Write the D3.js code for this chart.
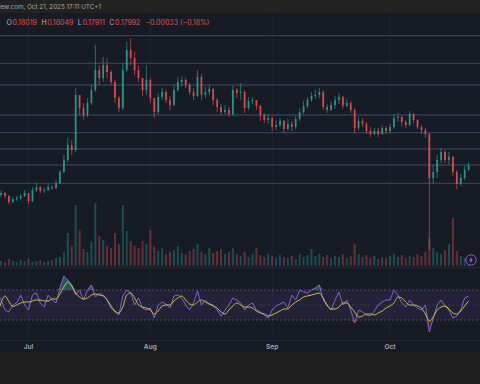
<!DOCTYPE html>
<html><head><meta charset="utf-8">
<script src="https://cdn.jsdelivr.net/npm/d3@7"></script>
<style>html,body{margin:0;padding:0;background:#171b26;overflow:hidden}</style>
</head><body>
<svg id="c" width="480" height="384"></svg>
<script>
// ---------- data ----------
const startDate = new Date(Date.UTC(2025, 5, 23));
const endDate = new Date(Date.UTC(2025, 9, 21));
const firstOpen = 0.1542;
const close = [0.1620,0.1632,0.1614,0.1578,0.1596,0.1602,0.1614,0.1632,0.1584,0.1650,
 0.1668,0.1644,0.1650,0.1668,0.1662,0.1692,0.1758,0.1830,0.1920,0.1890,
 0.2220,0.2142,0.2100,0.2172,0.2250,0.2370,0.2322,0.2400,0.2358,0.2298,
 0.2202,0.2142,0.2370,0.2490,0.2442,0.2370,0.2322,0.2250,0.2310,0.2202,
 0.2118,0.2208,0.2238,0.2190,0.2160,0.2250,0.2298,0.2310,0.2280,0.2238,
 0.2214,0.2328,0.2220,0.2238,0.2256,0.2190,0.2148,0.2118,0.2130,0.2106,
 0.2250,0.2232,0.2238,0.2142,0.2184,0.2190,0.2154,0.2100,0.2070,0.2082,
 0.2028,0.2040,0.2064,0.2016,0.2046,0.2028,0.2076,0.2118,0.2154,0.2190,
 0.2214,0.2220,0.2238,0.2148,0.2130,0.2160,0.2190,0.2208,0.2154,0.2172,
 0.2130,0.2022,0.2064,0.2046,0.2004,0.1986,0.2004,0.1986,0.2022,0.2004,
 0.2028,0.2082,0.2088,0.2058,0.2040,0.2106,0.2070,0.2028,0.2010,0.1986,
 0.1722,0.1758,0.1830,0.1878,0.1830,0.1848,0.1758,0.1686,0.1722,0.1770,
 0.17992];
const high = [0.1632,0.1650,0.1638,0.1620,0.1608,0.1614,0.1626,0.1650,0.1632,0.1668,
 0.1692,0.1674,0.1668,0.1686,0.1680,0.1710,0.1770,0.1860,0.1968,0.1950,
 0.2262,0.2220,0.2172,0.2202,0.2280,0.2520,0.2400,0.2448,0.2442,0.2370,
 0.2310,0.2214,0.2412,0.2538,0.2562,0.2478,0.2400,0.2322,0.2400,0.2322,
 0.2202,0.2232,0.2262,0.2250,0.2214,0.2280,0.2328,0.2334,0.2322,0.2292,
 0.2262,0.2370,0.2346,0.2268,0.2280,0.2262,0.2202,0.2166,0.2160,0.2148,
 0.2274,0.2262,0.2292,0.2250,0.2208,0.2208,0.2190,0.2160,0.2112,0.2106,
 0.2088,0.2070,0.2082,0.2070,0.2076,0.2064,0.2094,0.2142,0.2184,0.2208,
 0.2238,0.2250,0.2262,0.2250,0.2166,0.2184,0.2214,0.2232,0.2214,0.2196,
 0.2184,0.2142,0.2088,0.2082,0.2058,0.2028,0.2022,0.2022,0.2040,0.2034,
 0.2046,0.2106,0.2112,0.2094,0.2070,0.2124,0.2112,0.2076,0.2040,0.2022,
 0.1992,0.1800,0.1860,0.1902,0.1890,0.1878,0.1854,0.1770,0.1746,0.1794,
 0.1818];
const low = [0.1518,0.1608,0.1602,0.1566,0.1572,0.1584,0.1590,0.1608,0.1566,0.1578,
 0.1638,0.1632,0.1632,0.1644,0.1650,0.1656,0.1686,0.1752,0.1818,0.1860,
 0.1878,0.2100,0.2070,0.2088,0.2160,0.2238,0.2280,0.2298,0.2322,0.2280,
 0.2172,0.2118,0.2130,0.2358,0.2400,0.2340,0.2298,0.2214,0.2220,0.2172,
 0.2082,0.2106,0.2190,0.2172,0.2130,0.2154,0.2238,0.2274,0.2262,0.2220,
 0.2190,0.2208,0.2190,0.2202,0.2220,0.2160,0.2118,0.2100,0.2106,0.2088,
 0.2094,0.2202,0.2190,0.2112,0.2130,0.2166,0.2130,0.2064,0.2052,0.2046,
 0.2004,0.2010,0.2028,0.1992,0.2010,0.2004,0.2016,0.2064,0.2106,0.2142,
 0.2178,0.2196,0.2202,0.2130,0.2112,0.2124,0.2136,0.2166,0.2136,0.2148,
 0.2112,0.1992,0.2010,0.2028,0.1986,0.1968,0.1980,0.1968,0.1980,0.1986,
 0.1992,0.2016,0.2058,0.2034,0.2022,0.2034,0.2052,0.2016,0.1986,0.1962,
 0.1290,0.1692,0.1722,0.1812,0.1812,0.1800,0.1734,0.1656,0.1674,0.1710,
 0.1764];
const volume = [6,5,4,7,5,4,6,5,7,4,
 5,6,4,5,6,8,9,14,33,20,
 61,36,17,14,24,63,30,26,20,18,
 33,22,61,35,25,20,18,25,22,36,
 20,15,18,12,14,16,20,13,12,15,
 17,22,14,12,18,13,15,17,12,14,
 18,12,10,14,9,12,18,11,9,12,
 10,8,11,9,8,10,7,12,9,11,
 17,10,12,9,11,8,10,9,12,8,
 10,22,12,9,11,8,10,7,9,8,
 10,12,9,11,8,10,9,12,10,14,
 28,18,14,12,16,22,48,15,10,8,
 6];
const rsi = [67.3,56.7,43.3,40.7,50,52.7,63.3,50,43.3,63.3,
 66,52.7,47.3,63.3,56.7,52.7,72.7,88.7,83.3,76.7,
 63.3,70,56.7,70,76.7,60.7,65.3,63.3,56.7,46,
 40.7,36.7,62,70,66,50,59.3,46,43.3,46,
 32.7,50,54,51.3,46,62,63.3,59.3,50,43.3,
 52.7,68.7,50,56.7,51.3,50,43.3,35.3,43.3,50,
 59.3,56.7,52.7,43.3,50,52.7,43.3,40.7,36.7,32.7,
 43.3,48.7,51.3,54,46,63.3,56.7,70,67.3,66,
 70,72.7,76.7,56.7,48.7,43.3,56.7,67.3,50,56.7,
 43.3,26,43.3,40.7,36.7,35.3,42,50,54,56.7,
 56.7,70,63.3,52.7,47.3,56.7,50,46,43.3,50,
 14,32.7,50,56.7,48.7,43.3,32.7,35.3,43.3,59.3,
 62];
const rsiMA = [35.3,52.7,62,54.7,48,50,52.7,54,54,55.3,
 56.7,56.7,55.3,55.3,58,58,64.7,74,80.7,75.3,
 66,60.7,58,59.3,63.3,64.7,63.3,62,56.7,48.7,
 42,39.3,47.3,63.3,66,59.3,50,47.3,46,43.3,
 38,42,48.7,50,50,55.3,59.3,62,56.7,51.3,
 50,54,56.7,54,51.3,48.7,46,40.7,38,43.3,
 48.7,52.7,50,47.3,47.3,46,42,39.3,38,35.3,
 36.7,39.3,42,44.7,44.7,50,54,56.7,60.7,62,
 63.3,64.7,66,59.3,50,44.7,44.7,47.3,52.7,52.7,
 47.3,40.7,34,35.3,38,38,36.7,39.3,42,46,
 48.7,52.7,60.7,59.3,54,50,50,48.7,46,38,
 28.7,34,43.3,47.3,48.7,44.7,39.3,38,42,48.7,
 55.3];
const levels = [0.2576, 0.2410, 0.2280, 0.2100, 0.1994, 0.1896, 0.1800, 0.1690];
const rsiLevels = [70, 50, 30];
const monthLabels = ["Jul", "Aug", "Sep", "Oct"];
const monthDates = [new Date(Date.UTC(2025,6,1)), new Date(Date.UTC(2025,7,1)), new Date(Date.UTC(2025,8,1)), new Date(Date.UTC(2025,9,1))];
const headerText = "iew.com, Oct 21, 2025 17:11 UTC+1";
const ohlcKeys = ["O", "H", "L", "C"];
const ohlcVals = ["0.18019", "0.18049", "0.17911", "0.17992"];
const changeText = "\u22120.00033 (\u22120.18%)";

// ---------- build ----------
const days = d3.utcDay.range(startDate, d3.utcDay.offset(endDate, 1));
const candles = days.map((d, i) => ({
  date: d, open: i === 0 ? firstOpen : close[i - 1], close: close[i], high: high[i], low: low[i],
  vol: volume[i], rsi: rsi[i], ma: rsiMA[i]
}));

const svg = d3.select("#c");
const W = 480;
const UP = "#26a69a", DOWN = "#ef5350";

const x = d3.scaleUtc().domain([startDate, endDate]).range([-2.9, 468.6]);
const y = d3.scaleLinear().domain([0.12, 0.26]).range([265, 31.667]);
const yv = d3.scaleLinear().domain([0, 80]).range([266, 186]);
const yr = d3.scaleLinear().domain([0, 100]).range([342.5, 267.5]);

// backgrounds
svg.append("rect").attr("x", 0).attr("y", 0).attr("width", W).attr("height", 13).attr("fill", "#222222");
svg.append("rect").attr("x", 0).attr("y", 13).attr("width", W).attr("height", 340).attr("fill", "#171b26");
svg.append("rect").attr("x", 0).attr("y", 353).attr("width", W).attr("height", 31).attr("fill", "#1f1f1f");

// vertical month grid
svg.append("g").selectAll("line").data(monthDates).join("line")
  .attr("x1", d => x(d)).attr("x2", d => x(d)).attr("y1", 13).attr("y2", 340)
  .attr("stroke", "#212634").attr("stroke-width", 1);

// pane separators
svg.append("line").attr("x1", 0).attr("x2", W).attr("y1", 267.5).attr("y2", 267.5).attr("stroke", "#232733");
svg.append("line").attr("x1", 0).attr("x2", W).attr("y1", 340.5).attr("y2", 340.5).attr("stroke", "#232733");

// horizontal levels
svg.append("g").selectAll("line").data(levels).join("line")
  .attr("x1", 0).attr("x2", W).attr("y1", d => y(d)).attr("y2", d => y(d))
  .attr("stroke", "#31405c").attr("stroke-width", 1.3);

// volume
const bw = 2.0;
svg.append("g").selectAll("rect").data(candles).join("rect")
  .attr("x", d => x(d.date) - bw / 2).attr("width", bw)
  .attr("y", d => yv(d.vol)).attr("height", d => yv(0) - yv(d.vol))
  .attr("fill", d => d.close >= d.open ? UP : DOWN).attr("opacity", 0.36);

// candles
const cg = svg.append("g");
cg.selectAll("line").data(candles).join("line")
  .attr("x1", d => x(d.date)).attr("x2", d => x(d.date))
  .attr("y1", d => y(d.high)).attr("y2", d => y(d.low))
  .attr("stroke", d => d.close >= d.open ? UP : DOWN).attr("stroke-width", 0.8).attr("opacity", 0.8);
const cw = 1.8;
cg.selectAll("rect").data(candles).join("rect")
  .attr("x", d => x(d.date) - cw / 2).attr("width", cw)
  .attr("y", d => y(Math.max(d.open, d.close)))
  .attr("height", d => Math.max(0.8, Math.abs(y(d.open) - y(d.close))))
  .attr("fill", d => d.close >= d.open ? UP : DOWN).attr("opacity", 0.8);

// RSI pane
svg.append("rect").attr("x", 0).attr("width", W).attr("y", yr(70)).attr("height", yr(30) - yr(70))
  .attr("fill", "#7e57c2").attr("opacity", 0.12);
svg.append("g").selectAll("line").data(rsiLevels).join("line")
  .attr("x1", 0).attr("x2", W).attr("y1", d => yr(d)).attr("y2", d => yr(d))
  .attr("stroke", d => d === 50 ? "#3a3d4a" : "#5a5d6b").attr("stroke-width", 0.8)
  .attr("stroke-dasharray", "2,2");

// overbought / oversold fills
svg.append("path").datum(candles)
  .attr("d", d3.area().x(d => x(d.date)).y0(yr(70)).y1(d => yr(Math.max(d.rsi, 70))))
  .attr("fill", "#26a69a").attr("opacity", 0.45);
svg.append("path").datum(candles)
  .attr("d", d3.area().x(d => x(d.date)).y0(yr(30)).y1(d => yr(Math.min(d.rsi, 30))))
  .attr("fill", "#ef5350").attr("opacity", 0.25);

svg.append("path").datum(candles)
  .attr("d", d3.line().x(d => x(d.date)).y(d => yr(d.rsi)))
  .attr("fill", "none").attr("stroke", "#8c5fd0").attr("stroke-width", 1);
svg.append("path").datum(candles)
  .attr("d", d3.line().curve(d3.curveMonotoneX).x(d => x(d.date)).y(d => yr(d.ma)))
  .attr("fill", "none").attr("stroke", "#c9c53c").attr("stroke-width", 1);

// time axis labels
svg.append("g").selectAll("text").data(monthDates).join("text")
  .attr("x", d => x(d)).attr("y", 349).attr("text-anchor", "middle")
  .attr("font-family", "Inter, Roboto, sans-serif").attr("font-size", 6.6).attr("font-weight", 600)
  .attr("fill", "#a6a9b2").text((d, i) => monthLabels[i]);

// header
svg.append("text").attr("x", -1).attr("y", 9.3)
  .attr("font-family", "Inter, Roboto, sans-serif").attr("font-size", 6.3)
  .attr("fill", "#a9a9a9").text(headerText);

// OHLC legend
const lg = svg.append("text").attr("x", 6.5).attr("y", 24.5)
  .attr("font-family", "Inter, Roboto, sans-serif").attr("font-size", 7.0);
ohlcKeys.forEach((k, i) => {
  lg.append("tspan").attr("fill", "#b2b5be").attr("dx", i === 0 ? 0 : 4.5).text(k);
  lg.append("tspan").attr("fill", "#e0504c").attr("dx", 0.6).text(ohlcVals[i]);
});
lg.append("tspan").attr("fill", "#e0504c").attr("dx", 5).text(changeText);

// lightning icon
const ic = svg.append("g").attr("transform", "translate(471,260)");
ic.append("circle").attr("r", 5.2).attr("fill", "#1d1a2c").attr("stroke", "#8e5bd0").attr("stroke-width", 1);
ic.append("path").attr("d", "M0.9,-3.2 L-1.9,0.6 L-0.1,0.6 L-0.9,3.2 L1.9,-0.6 L0.1,-0.6 Z").attr("fill", "#a774e6");
</script>
</body></html>
